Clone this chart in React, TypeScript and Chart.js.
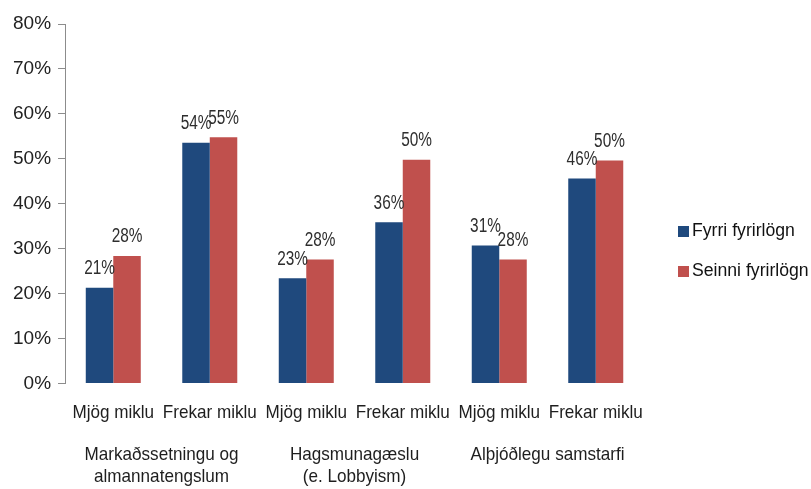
import React, { useEffect, useRef } from "react";
import { Chart, registerables } from "chart.js";

Chart.register(...registerables);

const categories = ["Mjög miklu", "Frekar miklu", "Mjög miklu", "Frekar miklu", "Mjög miklu", "Frekar miklu"];
const groups = [["Markaðssetningu og", "almannatengslum"], ["Hagsmunagæslu", "(e. Lobbyism)"], ["Alþjóðlegu samstarfi"]];
const seriesNames = ["Fyrri fyrirlögn", "Seinni fyrirlögn"];
const fyrri = [21.3, 53.6, 23.4, 35.9, 30.7, 45.6];
const seinni = [28.4, 54.8, 27.6, 49.8, 27.6, 49.6];
const yTicks = [0, 10, 20, 30, 40, 50, 60, 70, 80];

const REGULAR = "'Liberation Sans', Arial, sans-serif";

function narrowText(ctx: CanvasRenderingContext2D, text: string, x: number, y: number, sx: number) {
  ctx.save();
  ctx.translate(x, y);
  ctx.scale(sx, 1);
  ctx.fillText(text, 0, 0);
  ctx.restore();
}

const valueLabels = {
  id: "valueLabels",
  afterDatasetsDraw(chart: any) {
    const ctx = chart.ctx;
    ctx.save();
    ctx.font = `20.5px ${REGULAR}`;
    ctx.fillStyle = "#2e2e2e";
    ctx.textAlign = "center";
    ctx.textBaseline = "alphabetic";
    chart.data.datasets.forEach((ds: any, di: number) => {
      const meta = chart.getDatasetMeta(di);
      meta.data.forEach((bar: any, i: number) => {
        narrowText(ctx, Math.round(ds.data[i]) + "%", bar.x, bar.y - 13.5, 0.75);
      });
    });
    ctx.restore();
  },
};

const categoryLabels = {
  id: "categoryLabels",
  afterDraw(chart: any) {
    const ctx = chart.ctx;
    const xs = chart.scales.x;
    ctx.save();
    ctx.font = `19px ${REGULAR}`;
    ctx.fillStyle = "#1e1e1e";
    ctx.textAlign = "center";
    ctx.textBaseline = "alphabetic";
    categories.forEach((c, i) => {
      narrowText(ctx, c, xs.getPixelForValue(i), 417.5, 0.9);
    });
    groups.forEach((lines, g) => {
      const cx = (xs.getPixelForValue(2 * g) + xs.getPixelForValue(2 * g + 1)) / 2;
      lines.forEach((line, li) => {
        narrowText(ctx, line, cx, 459.5 + li * 22.7, 0.9);
      });
    });
    ctx.restore();
  },
};

const sideLegend = {
  id: "sideLegend",
  afterDraw(chart: any) {
    const ctx = chart.ctx;
    ctx.save();
    ctx.font = `18px ${REGULAR}`;
    ctx.textBaseline = "middle";
    ctx.textAlign = "left";
    chart.data.datasets.forEach((ds: any, i: number) => {
      const y = 231.5 + i * 40;
      ctx.fillStyle = ds.backgroundColor;
      ctx.fillRect(678, y - 5.5, 11, 11);
      ctx.fillStyle = "#111111";
      narrowText(ctx, ds.label, 692, y, 0.98);
    });
    ctx.restore();
  },
};

export default function App() {
  const ref = useRef<HTMLCanvasElement>(null);
  useEffect(() => {
    if (!ref.current) return;
    const chart = new Chart(ref.current, {
      type: "bar",
      data: {
        labels: categories,
        datasets: [
          { label: seriesNames[0], data: fyrri, backgroundColor: "#1F497D" },
          { label: seriesNames[1], data: seinni, backgroundColor: "#C0504D" },
        ],
      },
      plugins: [valueLabels, categoryLabels, sideLegend],
      options: {
        responsive: false,
        animation: false,
        datasets: { bar: { categoryPercentage: 0.57, barPercentage: 1 } },
        layout: { padding: { left: 6, right: 167, top: 24, bottom: 0 } },
        plugins: { legend: { display: false }, tooltip: { enabled: false } },
        scales: {
          x: {
            type: "category",
            position: "bottom",
            grid: { display: false, drawTicks: false },
            border: { display: false },
            ticks: { display: false },
            afterFit: (axis: any) => {
              axis.height = 105.5;
            },
          },
          y: {
            min: 0,
            max: 80,
            afterBuildTicks: (axis: any) => {
              axis.ticks = yTicks.map((v) => ({ value: v }));
            },
            grid: { drawOnChartArea: false, drawTicks: true, tickLength: 7, color: "#8c8c8c" },
            border: { display: true, color: "#8c8c8c" },
            ticks: { color: "#222222", font: { family: REGULAR, size: 19 }, padding: 7, callback: (v: any) => v + "%" },
          },
        },
      },
    });
    return () => chart.destroy();
  }, []);
  return (
    <div style={{ position: "fixed", left: 0, top: 0, width: 811, height: 489, background: "#ffffff" }}>
      <canvas ref={ref} width={811} height={489} />
    </div>
  );
}
